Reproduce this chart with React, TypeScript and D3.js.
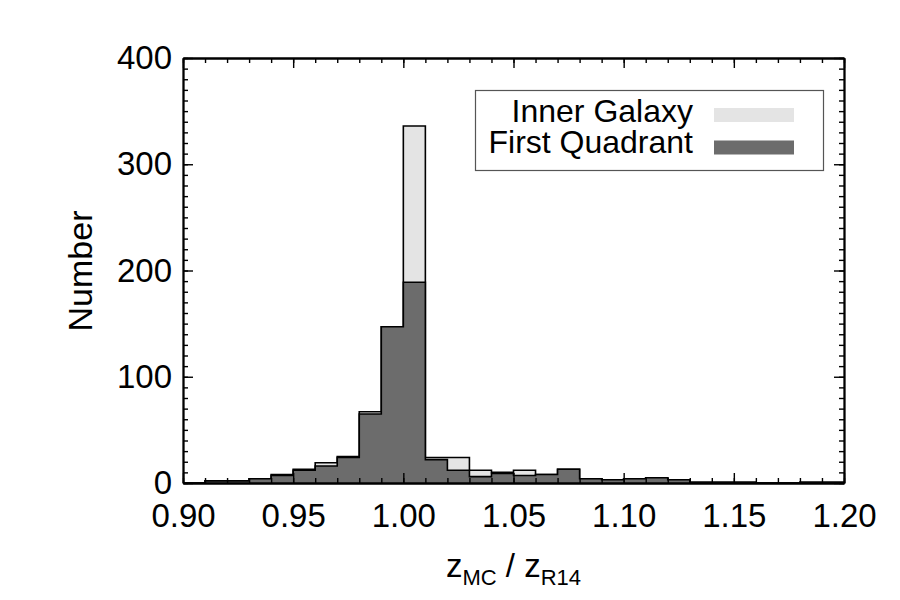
import React, { useRef, useEffect } from "react";
import * as d3 from "d3";

// Histogram bins (left edges), width 0.01
const binStarts = d3.range(30).map((i) => +(0.9 + i * 0.01).toFixed(2));
const binWidth = 0.01;

const innerGalaxy = [
  0, 2, 2, 4, 8, 13, 19, 25, 67, 147,
  336, 24, 24, 12, 10, 12, 8, 13, 4, 3,
  4, 5, 3, 1, 1, 1, 0, 0, 1, 1,
];

const firstQuadrant = [
  0, 2, 2, 4, 7, 12, 16, 24, 65, 147,
  189, 22, 12, 6, 9, 7, 8, 13, 4, 3,
  4, 5, 3, 0, 0, 0, 0, 0, 0, 0,
];

const xTicks = [0.9, 0.95, 1.0, 1.05, 1.1, 1.15, 1.2];
const yTicks = [0, 100, 200, 300, 400];
const legendLabels = ["Inner Galaxy", "First Quadrant"];

const LIGHT = "#e4e4e4";
const DARK = "#6c6c6c";
const FONT = "'Liberation Sans', Arial, Helvetica, sans-serif";

const App: React.FC = () => {
  const svgRef = useRef<SVGSVGElement>(null);

  useEffect(() => {
    if (!svgRef.current) return;
    const svg = d3.select(svgRef.current);
    svg.selectAll("*").remove();

    const width = 900;
    const height = 600;
    const margin = { top: 58, right: 56, bottom: 117, left: 183 };
    const innerWidth = width - margin.left - margin.right;
    const innerHeight = height - margin.top - margin.bottom;

    svg.attr("width", width).attr("height", height);
    svg.append("rect").attr("width", width).attr("height", height).attr("fill", "#fff");

    const g = svg.append("g").attr("transform", `translate(${margin.left},${margin.top})`);

    const x = d3.scaleLinear().domain([0.9, 1.2]).range([0, innerWidth]);
    const y = d3.scaleLinear().domain([0, 400]).range([innerHeight, 0]);

    // step outline: one point per bin start, plus closing edge
    const stepPoints = (vals: number[]) => {
      const pts = binStarts.map((b, i) => ({ x: b, v: vals[i] }));
      pts.push({ x: binStarts[binStarts.length - 1] + binWidth, v: vals[vals.length - 1] });
      return pts;
    };

    const area = d3
      .area<{ x: number; v: number }>()
      .x((d) => x(d.x))
      .y0(y(0))
      .y1((d) => y(d.v))
      .curve(d3.curveStepAfter);

    const line = d3
      .line<{ x: number; v: number }>()
      .x((d) => x(d.x))
      .y((d) => y(d.v))
      .curve(d3.curveStepAfter);

    [
      { vals: innerGalaxy, fill: LIGHT },
      { vals: firstQuadrant, fill: DARK },
    ].forEach((s) => {
      const pts = stepPoints(s.vals);
      g.append("path").datum(pts).attr("fill", s.fill).attr("d", area);
      // close the outline down to the baseline at both ends
      const outline = [{ x: pts[0].x, v: 0 }, ...pts, { x: pts[pts.length - 1].x, v: 0 }];
      g.append("path")
        .datum(outline)
        .attr("fill", "none")
        .attr("stroke", "#000")
        .attr("stroke-width", 1.6)
        .attr("d", line);
    });

    // frame axes
    const styleAxis = (sel: d3.Selection<SVGGElement, unknown, null, undefined>) => {
      sel.select(".domain").attr("stroke", "#000").attr("stroke-width", 1.8);
      sel.selectAll(".tick line").attr("stroke", "#000").attr("stroke-width", 1.4);
      sel.selectAll("text").attr("font-family", FONT).attr("font-size", 33).attr("fill", "#000");
    };

    const minorX = d3.range(31).map((i) => 0.9 + i * 0.01);
    const minorY = d3.range(41).map((i) => i * 10);

    // bottom
    g.append("g")
      .attr("transform", `translate(0,${innerHeight})`)
      .call(d3.axisBottom(x).tickValues(minorX).tickSizeInner(-5).tickSizeOuter(0).tickFormat(() => ""))
      .call(styleAxis);
    g.append("g")
      .attr("transform", `translate(0,${innerHeight})`)
      .call(
        d3.axisBottom(x).tickValues(xTicks).tickSizeInner(-10).tickSizeOuter(0).tickPadding(21)
          .tickFormat((d) => d3.format(".2f")(d as number))
      )
      .call(styleAxis);

    // top
    g.append("g")
      .call(d3.axisTop(x).tickValues(minorX).tickSizeInner(-5).tickSizeOuter(0).tickFormat(() => ""))
      .call(styleAxis);
    g.append("g")
      .call(d3.axisTop(x).tickValues(xTicks).tickSizeInner(-10).tickSizeOuter(0).tickFormat(() => ""))
      .call(styleAxis);

    // left
    g.append("g")
      .call(d3.axisLeft(y).tickValues(minorY).tickSizeInner(-5).tickSizeOuter(0).tickFormat(() => ""))
      .call(styleAxis);
    g.append("g")
      .call(d3.axisLeft(y).tickValues(yTicks).tickSizeInner(-10).tickSizeOuter(0).tickPadding(11))
      .call(styleAxis);

    // right
    g.append("g")
      .attr("transform", `translate(${innerWidth},0)`)
      .call(d3.axisRight(y).tickValues(minorY).tickSizeInner(-5).tickSizeOuter(0).tickFormat(() => ""))
      .call(styleAxis);
    g.append("g")
      .attr("transform", `translate(${innerWidth},0)`)
      .call(d3.axisRight(y).tickValues(yTicks).tickSizeInner(-10).tickSizeOuter(0).tickFormat(() => ""))
      .call(styleAxis);

    // axis titles
    const xt = svg
      .append("text")
      .attr("x", margin.left + innerWidth / 2)
      .attr("y", 577)
      .attr("text-anchor", "middle")
      .attr("font-family", FONT)
      .attr("font-size", 33)
      .attr("fill", "#000");
    xt.append("tspan").text("z");
    xt.append("tspan").attr("font-size", 22).attr("dy", 8).text("MC");
    xt.append("tspan").attr("dy", -8).text(" / z");
    xt.append("tspan").attr("font-size", 22).attr("dy", 8).text("R14");

    svg
      .append("text")
      .attr("transform", `translate(92,271) rotate(-90)`)
      .attr("text-anchor", "middle")
      .attr("font-family", FONT)
      .attr("font-size", 34)
      .attr("fill", "#000")
      .text("Number");

    // legend
    const lg = svg.append("g");
    lg.append("rect")
      .attr("x", 475.5)
      .attr("y", 90.5)
      .attr("width", 348)
      .attr("height", 80)
      .attr("fill", "#fff")
      .attr("stroke", "#555")
      .attr("stroke-width", 1.2);
    [LIGHT, DARK].forEach((c, i) => {
      lg.append("text")
        .attr("x", 693)
        .attr("y", 122 + i * 31)
        .attr("text-anchor", "end")
        .attr("font-family", FONT)
        .attr("font-size", 32)
        .attr("fill", "#000")
        .text(legendLabels[i]);
      lg.append("rect")
        .attr("x", 714)
        .attr("y", 108 + i * 32.5)
        .attr("width", 80)
        .attr("height", 14)
        .attr("fill", c);
    });
  }, []);

  return (
    <div style={{ position: "absolute", left: 0, top: 0, width: 900, height: 600 }}>
      <svg ref={svgRef}></svg>
    </div>
  );
};

export default App;
